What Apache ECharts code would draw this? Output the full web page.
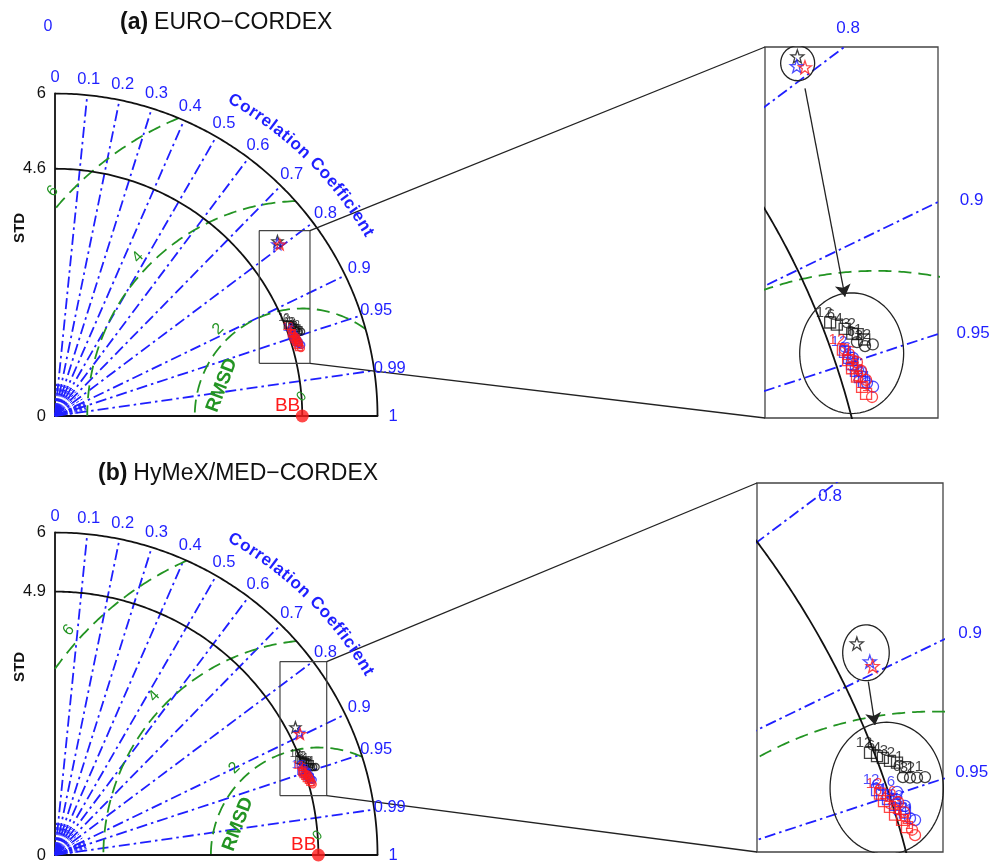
<!DOCTYPE html>
<html>
<head>
<meta charset="utf-8">
<script src="https://cdn.jsdelivr.net/npm/echarts@6/dist/echarts.min.js"></script>
<style>
  html, body { margin: 0; padding: 0; background: #fff; }
  #chart { width: 1003px; height: 864px; }
</style>
</head>
<body>
<div id="chart"></div>
<script>
// ---------- data: Taylor diagram values as [standard deviation, correlation] ----------
const stdMax = 6;
const corrTicks = [0.1, 0.2, 0.3, 0.4, 0.5, 0.6, 0.7, 0.8, 0.9, 0.95, 0.99];
const corrLabelValues = [0, 0.1, 0.2, 0.3, 0.4, 0.5, 0.6, 0.7, 0.8, 0.9, 0.95, 0.99, 1];
const corrLabelTexts = ['0', '0.1', '0.2', '0.3', '0.4', '0.5', '0.6', '0.7', '0.8', '0.9', '0.95', '0.99', '1'];
const insetCorrValues = [0.8, 0.9, 0.95];
const insetCorrTexts = ['0.8', '0.9', '0.95'];
const rmsdLevels = [2, 4, 6];
const rmsdTexts = ['2', '4', '6'];

const refStdA = 4.6;
const refStdB = 4.9;
const stdTicksA = [0, 4.6, 6];
const stdTicksB = [0, 4.9, 6];

const squareLabels = ['12', '6', '4', '3', '2', '1'];
const circleLabels = ['6', '3', '2', '1'];

// (a) EURO-CORDEX
const aStars = [[5.265, 0.786], [5.227, 0.791], [5.261, 0.795]]; // black, blue, red
const aBlackSq = [[4.651, 0.931], [4.683, 0.933], [4.717, 0.936], [4.749, 0.939], [4.778, 0.940], [4.803, 0.943]];
const aBlackCi = [[4.758, 0.943], [4.795, 0.9456], [4.841, 0.946]];
const aBlueSq = [[4.673, 0.9452], [4.684, 0.948], [4.689, 0.9507], [4.699, 0.9536], [4.711, 0.9562], [4.725, 0.9583]];
const aBlueCi = [[4.706, 0.9485], [4.726, 0.9545], [4.740, 0.959], [4.768, 0.9608]];
const aRedSq = [[4.666, 0.944], [4.675, 0.9487], [4.682, 0.9522], [4.695, 0.9557], [4.706, 0.9598], [4.717, 0.9625]];
const aRedCi = [[4.720, 0.9506], [4.728, 0.9541], [4.740, 0.9578], [4.746, 0.964]];

// (b) HyMeX/MED-CORDEX
const bStars = [[5.065, 0.883], [5.083, 0.894], [5.086, 0.8966]];
const bBlackSq = [[4.878, 0.9318], [4.908, 0.934], [4.935, 0.9355], [4.966, 0.9376], [4.999, 0.9392], [5.033, 0.9418]];
const bBlackCi = [[5.003, 0.945], [5.039, 0.946], [5.076, 0.9468], [5.119, 0.9475]];
const bBlueSq = [[4.844, 0.9464], [4.862, 0.9486], [4.886, 0.9507], [4.913, 0.9534], [4.933, 0.9552], [4.953, 0.9568]];
const bBlueCi = [[4.946, 0.9493], [4.964, 0.9547], [4.971, 0.959], [4.995, 0.960]];
const bRedSq = [[4.853, 0.948], [4.861, 0.951], [4.883, 0.9535], [4.897, 0.9565], [4.926, 0.9588], [4.941, 0.9614]];
const bRedCi = [[4.934, 0.9528], [4.949, 0.9566], [4.964, 0.9626], [4.972, 0.9644]];

// ---------- layout ----------
const FONT = "'Liberation Sans', Arial, Helvetica, sans-serif";
const BLUE = '#1f1fff';
const GREEN = '#239423';
const RED = '#ff1a1a';
const BLACK = '#111111';
const MARK_COLORS = [BLACK, BLUE, RED];
const DASHDOT = [11, 4, 2.5, 4];
const DASH = [13, 7];

const MAIN_SIZE = 322.5;
const mainLayout = [{ left: 55, top: 93.5 }, { left: 55, top: 532.5 }];
const insetLayout = [
  { left: 765, top: 47, width: 173, height: 371, xMin: 3.949, xMax: 4.961, yMin: 1.139, yMax: 3.310 },
  { left: 757, top: 483, width: 186, height: 369, xMin: 3.919, xMax: 4.950, yMin: 1.2215, yMax: 3.267 }
];
// zoom window drawn on each main diagram: [xMin, yMin, xMax, yMax] in data units
const zoomBox = [[3.80, 0.98, 4.744, 3.447], [4.186, 1.103, 5.055, 3.596]];
// highlight ellipses in the insets: [cx, cy, rx, ry]
const insetEllipses = [
  [[4.140, 3.215, 0.0995, 0.1024], [4.456, 1.518, 0.304, 0.353]],
  [[4.523, 2.326, 0.129, 0.155], [4.638, 1.575, 0.314, 0.366]]
];
const insetArrows = [[[4.183, 3.068], [4.417, 1.849]], [[4.536, 2.166], [4.573, 1.926]]];
const insetCorrLabelPos = [
  [[4.435, 3.421], [5.158, 2.415], [5.166, 1.636]],
  [[4.324, 3.195], [5.100, 2.434], [5.109, 1.663]]
];
const titles = [
  { tag: '(a)', name: 'EURO\u2212CORDEX', x: 120, y: 23 },
  { tag: '(b)', name: 'HyMeX/MED\u2212CORDEX', x: 98, y: 474 }
];

const panels = [
  { ref: refStdA, ticks: stdTicksA, stars: aStars, sq: [aBlackSq, aBlueSq, aRedSq], ci: [aBlackCi, aBlueCi, aRedCi] },
  { ref: refStdB, ticks: stdTicksB, stars: bStars, sq: [bBlackSq, bBlueSq, bRedSq], ci: [bBlackCi, bBlueCi, bRedCi] }
];

const STAR = 'path://M0,-10 L2.35,-3.24 L9.51,-3.09 L3.8,1.24 L5.88,8.09 L0,4 L-5.88,8.09 L-3.8,1.24 L-9.51,-3.09 L-2.35,-3.24 Z';

// ---------- helpers ----------
const toXY = ([s, c]) => [s * c, s * Math.sqrt(1 - c * c)];
const rad = d => d * Math.PI / 180;

function arcPoints(cx, r, a0, a1, n, keep) {
  const pts = [];
  for (let i = 0; i <= n; i++) {
    const a = rad(a0 + (a1 - a0) * i / n);
    const p = [cx + r * Math.cos(a), r * Math.sin(a)];
    if (!keep || keep(p)) pts.push(p);
  }
  return pts;
}

function lineS(gi, pts, color, width, type, z) {
  return {
    type: 'line', xAxisIndex: gi, yAxisIndex: gi, data: pts,
    symbol: 'none', showSymbol: false, clip: true, silent: true, animation: false,
    lineStyle: { color, width, type }, z: z || 2
  };
}

function markS(gi, pts, symbol, size, color, labels, inset, z) {
  return {
    type: 'scatter', xAxisIndex: gi, yAxisIndex: gi, data: pts.map(toXY),
    symbol, symbolSize: size, clip: inset, silent: true, animation: false,
    itemStyle: { color: 'rgba(255,255,255,0)', borderColor: color, borderWidth: inset ? 1.3 : 1.3 },
    label: labels ? {
      show: true, position: 'inside', offset: inset ? [-6, -10] : [-4, -6],
      formatter: p => labels[p.dataIndex] || '', color,
      fontSize: inset ? 15 : 10, fontFamily: FONT
    } : { show: false },
    z: z || 5
  };
}

function buildSeries(gi, pd, inset, pIdx) {
  const s = [];
  const inCircle = p => p[0] >= -1e-9 && p[1] >= -1e-9 && p[0] * p[0] + p[1] * p[1] <= stdMax * stdMax + 1e-6;

  // short radial ticks converging on the origin
  if (!inset) {
    const fan = [];
    for (let k = 1; k < 20; k++) fan.push(k * 0.05);
    for (let k = 91; k < 100; k++) fan.push(k / 100);
    fan.forEach(c => {
      s.push(lineS(gi, [[0, 0], [0.6 * c, 0.6 * Math.sqrt(1 - c * c)]], BLUE, 1, [3, 2], 1));
    });
  }
  // correlation rays
  corrTicks.forEach(c => {
    s.push(lineS(gi, [[0, 0], [stdMax * c, stdMax * Math.sqrt(1 - c * c)]], BLUE, 1.8, DASHDOT, 2));
  });
  // RMSD circles centred on the reference point
  rmsdLevels.forEach(r => {
    s.push(lineS(gi, arcPoints(pd.ref, r, 0, 180, 3000, inCircle), GREEN, 1.8, DASH, 2));
  });
  // reference std arc and outer boundary
  s.push(lineS(gi, arcPoints(0, pd.ref, 0, 90, 400), BLACK, 1.8, 'solid', 3));
  s.push(lineS(gi, arcPoints(0, stdMax, 0, 90, 400), BLACK, 1.8, 'solid', 3));

  if (!inset) {
    const b = zoomBox[pIdx];
    s.push(lineS(gi, [[b[0], b[1]], [b[2], b[1]], [b[2], b[3]], [b[0], b[3]], [b[0], b[1]]], '#444', 1.2, 'solid', 4));
  } else {
    insetEllipses[pIdx].forEach(e => {
      const pts = [];
      for (let i = 0; i <= 240; i++) {
        const t = 2 * Math.PI * i / 240;
        pts.push([e[0] + e[2] * Math.cos(t), e[1] + e[3] * Math.sin(t)]);
      }
      s.push(lineS(gi, pts, '#222', 1.3, 'solid', 4));
    });
    s.push({
      type: 'lines', coordinateSystem: 'cartesian2d', xAxisIndex: gi, yAxisIndex: gi,
      symbol: ['none', 'arrow'], symbolSize: [0, 12], silent: true, animation: false,
      lineStyle: { color: '#222', width: 1.3, opacity: 1, curveness: 0 },
      data: [{ coords: insetArrows[pIdx] }], z: 6
    });
  }

  const sqSize = inset ? 11 : 7;
  const ciSize = inset ? 11 : 7;
  const starSize = inset ? 13 : 11;
  for (let k = 0; k < 3; k++) {
    s.push(markS(gi, pd.sq[k], 'rect', sqSize, MARK_COLORS[k], squareLabels, inset, 5 + k));
    s.push(markS(gi, pd.ci[k], 'circle', ciSize, MARK_COLORS[k], circleLabels, inset, 5 + k));
    s.push(markS(gi, [pd.stars[k]], STAR, starSize, MARK_COLORS[k], null, inset, 5 + k));
  }
  if (!inset) {
    s.push({
      type: 'scatter', xAxisIndex: gi, yAxisIndex: gi, data: [toXY([pd.ref, 1])],
      symbol: 'circle', symbolSize: 13, clip: false, silent: true, animation: false,
      itemStyle: { color: RED }, z: 9
    });
  }
  return s;
}

// ---------- chart ----------
const chart = echarts.init(document.getElementById('chart'), null, { renderer: 'canvas' });

const grids = [], xAxes = [], yAxes = [], series = [];
panels.forEach((pd, p) => {
  const m = mainLayout[p], ins = insetLayout[p];
  const gMain = grids.length;
  grids.push({ left: m.left, top: m.top, width: MAIN_SIZE, height: MAIN_SIZE, containLabel: false });
  const axisMain = {
    gridIndex: gMain, type: 'value', min: 0, max: stdMax,
    axisLine: { show: true, onZero: false, lineStyle: { color: BLACK, width: 1.8 } },
    axisTick: { show: false }, axisLabel: { show: false }, splitLine: { show: false }
  };
  xAxes.push(Object.assign({}, axisMain));
  yAxes.push(Object.assign({}, axisMain));
  series.push(...buildSeries(gMain, pd, false, p));

  const gIn = grids.length;
  grids.push({
    left: ins.left, top: ins.top, width: ins.width, height: ins.height, containLabel: false,
    show: true, borderColor: '#444', borderWidth: 1.3, backgroundColor: 'rgba(0,0,0,0)'
  });
  const hidden = { axisLine: { show: false }, axisTick: { show: false }, axisLabel: { show: false }, splitLine: { show: false } };
  xAxes.push(Object.assign({ gridIndex: gIn, type: 'value', min: ins.xMin, max: ins.xMax }, hidden));
  yAxes.push(Object.assign({ gridIndex: gIn, type: 'value', min: ins.yMin, max: ins.yMax }, hidden));
  series.push(...buildSeries(gIn, pd, true, p));
});

chart.setOption({
  animation: false,
  backgroundColor: '#fff',
  grid: grids, xAxis: xAxes, yAxis: yAxes, series
});

// ---------- text and connectors placed through the axes ----------
const px = (gi, x, y) => chart.convertToPixel({ gridIndex: gi }, [x, y]);
const measure = (() => {
  const ctx = document.createElement('canvas').getContext('2d');
  return (txt, font) => { ctx.font = font; return ctx.measureText(txt).width; };
})();

function txt(x, y, text, opts) {
  const o = opts || {};
  return {
    type: 'text', x, y, rotation: o.rotation || 0, silent: true, z: 50,
    style: {
      text, fill: o.color || BLACK,
      font: o.font || ('15px ' + FONT),
      align: o.align || 'center', textAlign: o.align || 'center',
      verticalAlign: o.va || 'middle', textVerticalAlign: o.va || 'middle'
    }
  };
}

const graphics = [];
panels.forEach((pd, p) => {
  const gMain = p * 2, gIn = p * 2 + 1;
  const t = titles[p];
  const tagFont = 'bold 23px ' + FONT;
  graphics.push(txt(t.x, t.y, t.tag, { font: tagFont, align: 'left' }));
  graphics.push(txt(t.x + measure(t.tag, tagFont) + 6, t.y, t.name, { font: '23px ' + FONT, align: 'left' }));

  // std tick labels and axis title
  pd.ticks.forEach(v => {
    const q = px(gMain, 0, v);
    graphics.push(txt(q[0] - 9, q[1], String(v), { font: '16.5px ' + FONT, align: 'right' }));
  });
  const sq = px(gMain, -0.65, 3.5);
  graphics.push(txt(sq[0], sq[1], 'STD', { font: 'bold 15px ' + FONT, rotation: Math.PI / 2 }));

  // correlation labels around the outer arc
  corrLabelValues.forEach((c, i) => {
    const q = px(gMain, 6.29 * c, 6.29 * Math.sqrt(1 - c * c));
    graphics.push(txt(q[0], q[1], corrLabelTexts[i], { color: BLUE, font: '16.5px ' + FONT }));
  });

  // curved axis title
  const title = 'Correlation Coefficient';
  const cf = 'bold 17px ' + FONT;
  const widths = title.split('').map(ch => measure(ch, cf));
  const centers = [];
  let acc = 0;
  widths.forEach(w => { centers.push(acc + w / 2); acc += w; });
  const c0 = centers[0], c1 = centers[centers.length - 1];
  title.split('').forEach((ch, i) => {
    if (ch === ' ') return;
    const th = 60.3 + (30.3 - 60.3) * (centers[i] - c0) / (c1 - c0);
    const q = px(gMain, 6.75 * Math.cos(rad(th)), 6.75 * Math.sin(rad(th)));
    graphics.push(txt(q[0], q[1], ch, { color: BLUE, font: cf, rotation: rad(th - 90) }));
  });

  // RMSD labels
  const rmsdAngles = [134, 136, 138];
  rmsdLevels.forEach((r, i) => {
    const a = rmsdAngles[i], rr = r + 0.25;
    const q = px(gMain, pd.ref + rr * Math.cos(rad(a)), rr * Math.sin(rad(a)));
    graphics.push(txt(q[0], q[1], rmsdTexts[i], { color: GREEN, font: '16px ' + FONT, rotation: rad(a - 90) }));
  });
  const ra = 159, rr0 = 1.6;
  const rq = px(gMain, pd.ref + rr0 * Math.cos(rad(ra)), rr0 * Math.sin(rad(ra)));
  graphics.push(txt(rq[0], rq[1], 'RMSD', { color: GREEN, font: 'bold 19px ' + FONT, rotation: rad(ra - 90) }));
  const zq = px(gMain, pd.ref - 0.01, 0.36);
  graphics.push(txt(zq[0], zq[1], '0', { color: GREEN, font: '14px ' + FONT, rotation: rad(45) }));

  // reference label
  const bq = px(gMain, pd.ref, 0);
  graphics.push(txt(bq[0] - 2, bq[1] - 1, 'BB', { color: RED, font: '19px ' + FONT, align: 'right', va: 'bottom' }));

  // correlation labels beside the inset
  insetCorrValues.forEach((c, i) => {
    const lp = insetCorrLabelPos[p][i];
    const q = px(gIn, lp[0], lp[1]);
    graphics.push(txt(q[0], q[1], insetCorrTexts[i], { color: BLUE, font: '17px ' + FONT }));
  });

  // connectors from the zoom window to the inset
  const b = zoomBox[p], ins = insetLayout[p];
  const tr = px(gMain, b[2], b[3]), br = px(gMain, b[2], b[1]);
  const itl = px(gIn, ins.xMin, ins.yMax), ibl = px(gIn, ins.xMin, ins.yMin);
  [[tr, itl], [br, ibl]].forEach(([a, c]) => {
    graphics.push({
      type: 'line', silent: true, z: 40,
      shape: { x1: a[0], y1: a[1], x2: c[0], y2: c[1] },
      style: { stroke: '#222', lineWidth: 1.3 }
    });
  });
});
graphics.push(txt(48, 27, '0', { color: BLUE, font: '16px ' + FONT }));

chart.setOption({ graphic: { elements: graphics } });
</script>
</body>
</html>
